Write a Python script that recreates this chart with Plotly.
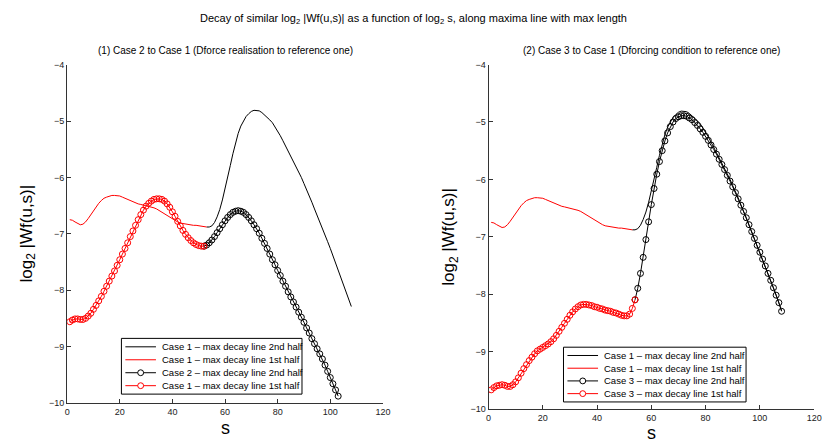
import plotly.graph_objects as go

# ---------------- data ----------------
s_c1_first = list(range(1, 54))
c1_first = [-6.75, -6.76, -6.79, -6.82, -6.84, -6.83, -6.79, -6.73, -6.66, -6.59,
            -6.52, -6.46, -6.41, -6.37, -6.35, -6.33, -6.32, -6.32, -6.32, -6.33,
            -6.35, -6.37, -6.40, -6.42, -6.44, -6.46, -6.47, -6.48, -6.49, -6.50,
            -6.51, -6.52, -6.54, -6.56, -6.59, -6.62, -6.65, -6.68, -6.71, -6.74,
            -6.77, -6.79, -6.81, -6.82, -6.83, -6.84, -6.84, -6.85, -6.85, -6.86,
            -6.87, -6.88, -6.88]

s_c1_second = list(range(53, 109))
c1_second = [-6.88, -6.88, -6.86, -6.80, -6.70, -6.57, -6.40, -6.21, -6.01, -5.79,
             -5.58, -5.39, -5.22, -5.09, -4.99, -4.92, -4.87, -4.83, -4.81, -4.81,
             -4.82, -4.85, -4.89, -4.93, -4.98, -5.03, -5.10, -5.18, -5.26, -5.35,
             -5.44, -5.53, -5.62, -5.71, -5.81, -5.90, -6.00, -6.11, -6.21, -6.32,
             -6.44, -6.56, -6.67, -6.79, -6.91, -7.03, -7.14, -7.26, -7.39, -7.51,
             -7.64, -7.76, -7.89, -8.02, -8.15, -8.29]

s_c2_first = list(range(1, 53))
c2_first = [-8.56, -8.53, -8.51, -8.51, -8.52, -8.52, -8.50, -8.46, -8.41, -8.34,
            -8.27, -8.19, -8.11, -8.02, -7.93, -7.84, -7.75, -7.66, -7.56, -7.46,
            -7.36, -7.26, -7.16, -7.05, -6.95, -6.85, -6.75, -6.66, -6.58, -6.51,
            -6.46, -6.42, -6.39, -6.38, -6.38, -6.39, -6.42, -6.47, -6.53, -6.61,
            -6.69, -6.78, -6.86, -6.94, -7.01, -7.07, -7.12, -7.16, -7.19, -7.21,
            -7.22, -7.22]

s_c2_second = list(range(52, 104))
c2_second = [-7.22, -7.20, -7.16, -7.11, -7.05, -6.98, -6.91, -6.84, -6.77, -6.71,
             -6.66, -6.62, -6.60, -6.59, -6.60, -6.62, -6.66, -6.71, -6.77, -6.84,
             -6.91, -6.99, -7.08, -7.17, -7.26, -7.36, -7.46, -7.55, -7.65, -7.74,
             -7.84, -7.93, -8.03, -8.12, -8.21, -8.30, -8.39, -8.48, -8.57, -8.67,
             -8.76, -8.86, -8.95, -9.04, -9.13, -9.22, -9.33, -9.44, -9.55, -9.66,
             -9.77, -9.88]

s_c3_first = list(range(1, 55))
c3_first = [-9.67, -9.63, -9.60, -9.59, -9.58, -9.59, -9.61, -9.61, -9.58, -9.53,
            -9.46, -9.38, -9.30, -9.23, -9.16, -9.10, -9.04, -8.99, -8.96, -8.93,
            -8.90, -8.87, -8.83, -8.78, -8.72, -8.65, -8.58, -8.51, -8.44, -8.37,
            -8.31, -8.26, -8.22, -8.19, -8.18, -8.18, -8.19, -8.20, -8.22, -8.23,
            -8.25, -8.26, -8.28, -8.29, -8.30, -8.32, -8.33, -8.35, -8.37, -8.38,
            -8.38, -8.35, -8.25, -8.10]

s_c3_second = list(range(54, 109))
c3_second = [-8.10, -7.90, -7.64, -7.36, -7.05, -6.74, -6.44, -6.16, -5.91, -5.69,
             -5.50, -5.33, -5.19, -5.08, -5.00, -4.94, -4.91, -4.89, -4.89, -4.90,
             -4.93, -4.96, -5.01, -5.06, -5.12, -5.18, -5.25, -5.32, -5.40, -5.48,
             -5.56, -5.65, -5.74, -5.83, -5.93, -6.03, -6.13, -6.23, -6.34, -6.45,
             -6.56, -6.67, -6.79, -6.91, -7.03, -7.15, -7.27, -7.39, -7.51, -7.64,
             -7.76, -7.89, -8.02, -8.15, -8.30]

x_ticks = [0, 20, 40, 60, 80, 100, 120]
y_ticks = [-10, -9, -8, -7, -6, -5, -4]

main_title = "Decay of similar log<sub>2</sub> |Wf(u,s)| as a function of log<sub>2</sub> s, along maxima line with max length"
title_left = "(1) Case 2 to Case 1 (Dforce realisation to reference one)"
title_right = "(2) Case 3 to Case 1 (Dforcing condition to reference one)"
ylab = "log<sub>2</sub> |Wf(u,s)|"
xlab = "s"

names_left = ["Case 1 \u2013 max decay line 2nd half", "Case 1 \u2013 max decay line 1st half",
              "Case 2 \u2013 max decay line 2nd half", "Case 1 \u2013 max decay line 1st half"]
names_right = ["Case 1 \u2013 max decay line 2nd half", "Case 1 \u2013 max decay line 1st half",
               "Case 3 \u2013 max decay line 2nd half", "Case 3 \u2013 max decay line 1st half"]
legend_colors = ["#000000", "#ff0000", "#000000", "#ff0000"]
legend_has_marker = [False, False, True, True]

# ---------------- figure ----------------
FONT = "Liberation Sans, Arial, Helvetica, sans-serif"
BLACK = "#000000"
RED = "#ff0000"
W, H = 833, 448

fig = go.Figure()

def add_panel(xa, ya, names, sec_x, sec_y, fir_x, fir_y):
    fig.add_trace(go.Scatter(x=s_c1_second, y=c1_second, mode="lines", name=names[0],
                             line=dict(color=BLACK, width=1), xaxis=xa, yaxis=ya, showlegend=False))
    fig.add_trace(go.Scatter(x=s_c1_first, y=c1_first, mode="lines", name=names[1],
                             line=dict(color=RED, width=1), xaxis=xa, yaxis=ya, showlegend=False))
    fig.add_trace(go.Scatter(x=sec_x, y=sec_y, mode="lines+markers", name=names[2],
                             line=dict(color=BLACK, width=1),
                             marker=dict(symbol="circle-open", size=6, color=BLACK, line=dict(width=1)),
                             xaxis=xa, yaxis=ya, showlegend=False))
    fig.add_trace(go.Scatter(x=fir_x, y=fir_y, mode="lines+markers", name=names[3],
                             line=dict(color=RED, width=1),
                             marker=dict(symbol="circle-open", size=6, color=RED, line=dict(width=1)),
                             xaxis=xa, yaxis=ya, showlegend=False))

add_panel("x", "y", names_left, s_c2_second, c2_second, s_c2_first, c2_first)
add_panel("x2", "y2", names_right, s_c3_second, c3_second, s_c3_first, c3_first)

axis_common = dict(showgrid=False, zeroline=False, showline=True, linecolor="#333333", linewidth=1,
                   ticks="inside", ticklen=4, tickcolor="#333333", mirror=False,
                   tickfont=dict(family=FONT, size=9, color="#222222"))

# pixel layout
lx0, lx1 = 65, 385
rx0, rx1 = 492, 822
ytop = 61
lyb, ryb = 407, 413

fig.update_layout(
    width=W, height=H,
    margin=dict(l=0, r=0, t=0, b=0),
    paper_bgcolor="white", plot_bgcolor="white",
    font=dict(family=FONT, color="#000000"),
    showlegend=False,
    xaxis=dict(domain=[lx0 / W, lx1 / W], range=[0, 120], tickvals=x_ticks, anchor="y", **axis_common),
    yaxis=dict(domain=[1 - lyb / H, 1 - ytop / H], range=[-10, -4], tickvals=y_ticks, anchor="x", **axis_common),
    xaxis2=dict(domain=[rx0 / W, rx1 / W], range=[0, 120], tickvals=x_ticks, anchor="y2", **axis_common),
    yaxis2=dict(domain=[1 - ryb / H, 1 - ytop / H], range=[-10, -4], tickvals=y_ticks, anchor="x2", **axis_common),
)

def px(x):
    return x / W

def py(y):
    return 1 - y / H

ann = []
shapes = []
ann.append(dict(text=main_title, x=px(416), y=py(14), xref="paper", yref="paper",
                showarrow=False, xanchor="center", yanchor="middle", font=dict(family=FONT, size=11)))
ann.append(dict(text=title_left, x=px((lx0 + lx1) / 2), y=py(47), xref="paper", yref="paper",
                showarrow=False, xanchor="center", yanchor="middle", font=dict(family=FONT, size=10)))
ann.append(dict(text=title_right, x=px((rx0 + rx1) / 2), y=py(47), xref="paper", yref="paper",
                showarrow=False, xanchor="center", yanchor="middle", font=dict(family=FONT, size=10)))
ann.append(dict(text=ylab, x=px(25), y=py(234), xref="paper", yref="paper", textangle=-90,
                showarrow=False, xanchor="center", yanchor="middle", font=dict(family=FONT, size=17)))
ann.append(dict(text=ylab, x=px(453), y=py(237), xref="paper", yref="paper", textangle=-90,
                showarrow=False, xanchor="center", yanchor="middle", font=dict(family=FONT, size=17)))
ann.append(dict(text=xlab, x=px((lx0 + lx1) / 2), y=py(433), xref="paper", yref="paper",
                showarrow=False, xanchor="center", yanchor="middle", font=dict(family=FONT, size=18)))
ann.append(dict(text=xlab, x=px((rx0 + rx1) / 2), y=py(438), xref="paper", yref="paper",
                showarrow=False, xanchor="center", yanchor="middle", font=dict(family=FONT, size=18)))

# custom compact legends (MATLAB style)
def add_legend(box_x0, box_x1, box_y0, box_y1, names):
    shapes.append(dict(type="rect", xref="paper", yref="paper",
                       x0=px(box_x0), x1=px(box_x1), y0=py(box_y1), y1=py(box_y0),
                       line=dict(color=BLACK, width=1), fillcolor="white", layer="above"))
    n = len(names)
    row_h = (box_y1 - box_y0 - 4) / n
    for i, name in enumerate(names):
        yc = box_y0 + 2 + row_h * (i + 0.5)
        col = legend_colors[i]
        lx_a, lx_b = box_x0 + 4, box_x0 + 35
        shapes.append(dict(type="line", xref="paper", yref="paper",
                           x0=px(lx_a), x1=px(lx_b), y0=py(yc), y1=py(yc),
                           line=dict(color=col, width=1), layer="above"))
        if legend_has_marker[i]:
            cx = (lx_a + lx_b) / 2
            shapes.append(dict(type="circle", xref="paper", yref="paper",
                               x0=px(cx - 3), x1=px(cx + 3), y0=py(yc + 3), y1=py(yc - 3),
                               line=dict(color=col, width=1), fillcolor="white", layer="above"))
        ann.append(dict(text=name, x=px(box_x0 + 39), y=py(yc), xref="paper", yref="paper",
                        showarrow=False, xanchor="left", yanchor="middle",
                        font=dict(family=FONT, size=9.5, color=BLACK)))

add_legend(120, 303, 341, 398, names_left)
add_legend(568, 753, 350, 406, names_right)

fig.update_layout(annotations=ann, shapes=shapes)

fig.write_html("out.html")
